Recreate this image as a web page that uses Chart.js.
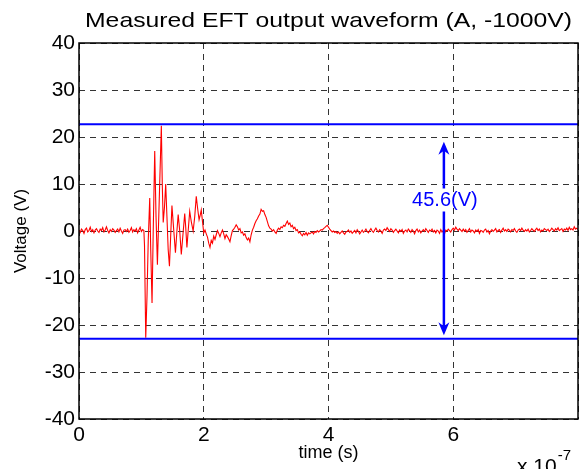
<!DOCTYPE html>
<html>
<head>
<meta charset="utf-8">
<script src="https://cdn.jsdelivr.net/npm/chart.js@4/dist/chart.umd.min.js"></script>
<style>
  html, body { margin: 0; padding: 0; background: #fff; }
</style>
</head>
<body>
<canvas id="eftChart" width="582" height="469"></canvas>
<script>
// time values are in units of 1e-7 s (axis shows "x 10^-7")
const xTickValues = [0, 2, 4, 6];
const yTickValues = [-40, -30, -20, -10, 0, 10, 20, 30, 40];

// quiet part before the burst, one sample every 0.02
const preStart = 0, preStep = 0.02;
const preVolts = [
  0.2, -0.3, 0.4, 0.1, -0.5, 0.3, 0.6, -0.2, 0.1, 0.8,
  -0.1, 0.3, -0.4, 0.2, 0.5, 0.0, -0.3, 0.4, 0.1, 0.7,
  -0.2, 0.2, 0.9, 0.1, -0.4, 0.3, -0.1, 0.5, 0.2, -0.3,
  0.1, 0.4, -0.2, 0.6, 0.0, -0.5, 0.2, 0.3, -0.1, 0.4,
  -0.3, 0.1, 0.7, -0.2, 0.3, 0.0, 0.5, -0.4, 0.2, 0.8,
  -0.1, 0.3, 0.1
];

// the ringing burst, read point by point
const burstTimes = [
  1.05, 1.07, 1.09, 1.11, 1.134, 1.15, 1.171, 1.19, 1.214, 1.235,
  1.257, 1.32, 1.335, 1.35, 1.37, 1.39, 1.41, 1.43, 1.45, 1.47,
  1.49, 1.52, 1.546, 1.57, 1.59, 1.615, 1.64, 1.665, 1.695, 1.71,
  1.73, 1.75, 1.775, 1.80, 1.83, 1.855, 1.88, 1.90, 1.925, 1.945,
  1.96, 1.98,
  2.00, 2.02, 2.04, 2.06, 2.08, 2.10, 2.12, 2.14, 2.16, 2.18,
  2.20, 2.22, 2.24, 2.26, 2.28, 2.30, 2.32, 2.34, 2.36, 2.38,
  2.40, 2.42, 2.44, 2.46, 2.48, 2.50, 2.52, 2.54, 2.56, 2.58,
  2.60, 2.62, 2.64, 2.66, 2.68, 2.70, 2.72, 2.74, 2.76, 2.78,
  2.80, 2.82, 2.84, 2.86, 2.88, 2.90, 2.92, 2.94, 2.96, 2.98,
  3.00, 3.02, 3.04, 3.06, 3.08, 3.10, 3.12, 3.14, 3.16, 3.18,
  3.20, 3.22, 3.24, 3.26, 3.28, 3.30, 3.32, 3.34, 3.36, 3.38,
  3.40, 3.42, 3.44, 3.46, 3.48, 3.50, 3.52, 3.54, 3.56, 3.58,
  3.60, 3.62, 3.64, 3.66, 3.68, 3.70
];
const burstVolts = [
  -3, -22.7, -14, -2, 7, -4, -15.3, 0, 17, 3,
  -7.2, 22.4, 10, 1.8, 5, 10, 3, -4, -7.5, -1,
  5.4, 0, -4.6, 0, 3.5, 0, -5, -1, 3.7, 1,
  -3.5, 0, 4.2, 2, 0, 3, 7.4, 5, 2.4, 3.5,
  4.5, 2,
  -0.4, 0.2, -0.6, -1.3, -2.6, -3.5, -2.0, -2.6, -1.1, -1.8,
  -0.8, 0.1, -0.5, -1.2, -0.4, 0.2, -0.6, -1.6, -0.8, -1.2,
  -1.7, -2.3, -1.0, 0.1, 0.4, 0.8, 1.3, 0.9, 0.2, 0.5,
  -0.4, -0.2, -0.9, -0.6, -1.4, -1.9, -1.5, -2.3, -0.8, 0.2,
  0.8, 1.6, 2.2, 2.6, 3.2, 3.6, 4.6, 4.2, 4.3, 3.5,
  2.9, 2.0, 1.1, 0.6, 0.4, 0.0, 0.3, -0.2, -0.5, 0.2,
  0.6, 0.3, 0.9, 0.7, 1.2, 1.0, 1.6, 2.1, 1.4, 1.7,
  0.9, 1.2, 0.5, 0.8, 0.1, 0.3, -0.4, -0.2, -0.7, -1.0,
  -0.5, -0.8, -0.3, -0.9, -0.4, -0.6
];

// settled tail, one sample every 0.02
const postStart = 3.72, postStep = 0.02;
const postVolts = [
  -0.4, -0.2, -0.6, -0.1, -0.3, 0.1, -0.2, 0.0, 0.3, 0.2,
  0.5, 0.7, 1.0, 1.2, 0.8, 0.4, 0.1, -0.2, 0.0, -0.3,
  -0.1, -0.5, -0.2, -0.6, -0.3, 0.0, -0.4, -0.7, -0.2, -0.1,
  0.2, -0.3, 0.0, -0.5, -0.2, 0.1, -0.4, 0.3, -0.1, -0.6,
  -0.2, 0.2, -0.3, 0.0, 0.4, -0.1, -0.4, 0.1, 0.5, 0.0,
  -0.3, 0.2, 0.6, 0.1, -0.2, 0.3, 0.0, -0.5, 0.2, 0.4,
  0.1, 0.7, 0.3, -0.1, 0.5, 0.2, -0.3, 0.1, 0.4, 0.0,
  -0.4, 0.2, -0.1, 0.3, -0.5, 0.0, 0.2, -0.2, 0.4, 0.1,
  -0.3, 0.3, 0.0, -0.6, 0.1, 0.4, -0.2, 0.2, -0.4, 0.0,
  0.3, -0.1, 0.5, 0.1, -0.3, 0.2, 0.0, 0.4, -0.2, 0.1,
  -0.4, 0.2, 0.0, -0.5, 0.3, -0.2, 0.1, -0.6, 0.2, 0.0,
  0.4, 0.1, -0.2, 0.3, 0.6, 0.2, 0.8, 0.4, 0.1, 0.5,
  0.2, -0.1, 0.4, 0.0, 0.3, -0.3, 0.1, 0.5, -0.2, 0.2,
  0.0, -0.4, 0.2, -0.1, 0.3, -0.5, 0.1, 0.0, -0.3, 0.2,
  0.4, -0.2, 0.1, -0.6, 0.0, 0.3, -0.1, 0.2, 0.5, -0.2,
  0.1, 0.3, -0.3, 0.2, 0.6, 0.0, 0.3, -0.1, 0.4, 0.2,
  -0.2, 0.3, 0.1, 0.5, 0.0, -0.3, 0.2, 0.4, 0.1, 0.6,
  0.2, -0.1, 0.3, 0.0, 0.4, -0.2, 0.1, 0.5, 0.2, -0.1,
  0.3, 0.6, 0.1, 0.4, -0.2, 0.2, 0.0, 0.5, 0.3, 0.1,
  0.4, -0.1, 0.2, 0.6, 0.3, 0.0, 0.5, 0.2, 0.7, 0.1,
  0.3, 0.5, -0.1, 0.4, 0.2, 0.6, 0.1, 0.8, 0.3, 0.5,
  0.2, 0.9, 0.4, 0.6, 0.3
];

// peak levels and the annotation
const upperLevel = 22.7;
const lowerLevel = -22.9;
const arrowAt = 5.85;
const arrowTop = 19;
const arrowBottom = -22.2;
const spanLabel = '45.6(V)';
const spanLabelY = 6.5;
const chartTitle = 'Measured EFT output waveform (A, -1000V)';

const xMin = 0, xMax = 8;

// build the point table
const waveform = [];
preVolts.forEach((v, i) => waveform.push({x: preStart + i * preStep, y: v}));
burstTimes.forEach((t, i) => waveform.push({x: t, y: burstVolts[i]}));
postVolts.forEach((v, i) => waveform.push({x: postStart + i * postStep, y: v}));

const FONT = '"Liberation Sans", Arial, Helvetica, sans-serif';

const decorations = {
    id: 'decorations',
    afterDraw(chart) {
        const {ctx, chartArea: a, scales: {x, y}} = chart;
        ctx.save();

        // box around the plot
        ctx.strokeStyle = '#000';
        ctx.lineWidth = 1.5;
        ctx.strokeRect(a.left, a.top, a.right - a.left, a.bottom - a.top);

        // title, centred over the plot and a little wide like the original
        ctx.fillStyle = '#000';
        ctx.font = '21px ' + FONT;
        ctx.textAlign = 'center';
        ctx.textBaseline = 'middle';
        const tw = ctx.measureText(chartTitle).width;
        const sx = 487 / tw;
        ctx.save();
        ctx.translate((a.left + a.right) / 2, 21);
        ctx.scale(sx, 1);
        ctx.fillText(chartTitle, 0, 0);
        ctx.restore();

        // double arrow with the label in its gap
        const ax = x.getPixelForValue(arrowAt);
        const yt = y.getPixelForValue(arrowTop);
        const yb = y.getPixelForValue(arrowBottom);
        const yl = y.getPixelForValue(spanLabelY);
        ctx.strokeStyle = '#0000ff';
        ctx.fillStyle = '#0000ff';
        ctx.lineWidth = 2.5;
        ctx.beginPath();
        ctx.moveTo(ax, yt + 8);
        ctx.lineTo(ax, yl - 12);
        ctx.moveTo(ax, yl + 11);
        ctx.lineTo(ax, yb - 8);
        ctx.stroke();
        const head = (tip, dir) => {
            ctx.beginPath();
            ctx.moveTo(ax, tip);
            ctx.lineTo(ax - 5.5, tip + dir * 13);
            ctx.lineTo(ax, tip + dir * 9);
            ctx.lineTo(ax + 5.5, tip + dir * 13);
            ctx.closePath();
            ctx.fill();
        };
        head(yt, 1);
        head(yb, -1);
        ctx.font = '20px ' + FONT;
        ctx.fillText(spanLabel, ax + 1, yl);

        // exponent of the time axis
        ctx.fillStyle = '#000';
        ctx.textAlign = 'left';
        ctx.textBaseline = 'alphabetic';
        ctx.font = '21px ' + FONT;
        ctx.fillText('x 10', 517, 473);
        const w = ctx.measureText('x 10').width;
        ctx.font = '15px ' + FONT;
        ctx.fillText('-7', 517 + w + 1, 460);

        ctx.restore();
    }
};

const ctx = document.getElementById('eftChart').getContext('2d');
new Chart(ctx, {
    type: 'line',
    data: {
        datasets: [
            {
                data: [{x: xMin, y: upperLevel}, {x: xMax, y: upperLevel}],
                borderColor: '#0000ff',
                borderWidth: 2,
                pointRadius: 0
            },
            {
                data: [{x: xMin, y: lowerLevel}, {x: xMax, y: lowerLevel}],
                borderColor: '#0000ff',
                borderWidth: 2,
                pointRadius: 0
            },
            {
                data: waveform,
                borderColor: '#ff0000',
                borderWidth: 1.1,
                pointRadius: 0,
                tension: 0
            }
        ]
    },
    options: {
        responsive: false,
        animation: false,
        layout: { padding: { top: 43, right: 4 } },
        plugins: {
            legend: { display: false },
            tooltip: { enabled: false },
            title: { display: false }
        },
        scales: {
            x: {
                type: 'linear',
                min: xMin,
                max: xMax,
                afterFit: s => { s.height = 50; },
                afterBuildTicks: s => { s.ticks = xTickValues.concat([xMax]).map(v => ({value: v})); },
                ticks: {
                    color: '#000',
                    font: { family: FONT, size: 21 },
                    padding: 4,
                    maxRotation: 0,
                    callback: v => (xTickValues.includes(v) ? String(v) : '')
                },
                grid: { color: '#333', lineWidth: 1, drawTicks: false },
                border: { display: false, dash: [6, 5] },
                title: {
                    display: true,
                    text: 'time (s)',
                    color: '#000',
                    font: { family: FONT, size: 18 },
                    padding: { top: 0, bottom: 5 }
                }
            },
            y: {
                min: -40,
                max: 40,
                afterFit: s => { s.width = 79; },
                afterBuildTicks: s => { s.ticks = yTickValues.map(v => ({value: v})); },
                ticks: {
                    color: '#000',
                    font: { family: FONT, size: 21 },
                    padding: 4
                },
                grid: { color: '#333', lineWidth: 1, drawTicks: false },
                border: { display: false, dash: [6, 5] },
                title: {
                    display: true,
                    text: 'Voltage (V)',
                    color: '#000',
                    font: { family: FONT, size: 17 },
                    padding: { top: 11, bottom: 0 }
                }
            }
        }
    },
    plugins: [decorations]
});
</script>
</body>
</html>
